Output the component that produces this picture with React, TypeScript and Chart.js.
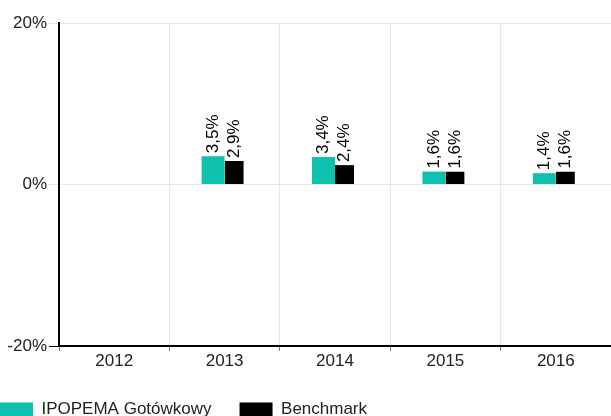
import React, { useEffect, useRef } from "react";
import { Chart, registerables } from "chart.js";

Chart.register(...registerables);

const categories = ["2012", "2013", "2014", "2015", "2016"];
const fundValues: (number | null)[] = [null, 3.5, 3.4, 1.6, 1.4];
const benchmarkValues: (number | null)[] = [null, 2.9, 2.4, 1.6, 1.6];
const seriesNames = ["IPOPEMA Gotówkowy", "Benchmark"];
const yTicks = [-20, 0, 20];

const FONT_FAMILY = '"Liberation Sans", Arial, Helvetica, sans-serif';
const TEAL = "#0ec0ae";
const BLACK = "#000000";
const BLACK_RIGHT_GAP = 4;

const fmt = (v: number) => v.toFixed(1).replace(".", ",") + "%";

const barLabels = {
  id: "barLabels",
  afterDatasetsDraw(chart: any) {
    const ctx = chart.ctx;
    chart.data.datasets.forEach((ds: any, di: number) => {
      const meta = chart.getDatasetMeta(di);
      meta.data.forEach((bar: any, i: number) => {
        const v = ds.data[i];
        if (v == null) return;
        const p = bar.getProps(["x", "y"], true);
        const gap = ds.borderWidth && typeof ds.borderWidth === "object" ? ds.borderWidth.right || 0 : 0;
        const x = p.x - gap / 2;
        ctx.save();
        ctx.translate(x, p.y - 3);
        ctx.rotate(-Math.PI / 2);
        ctx.font = `17px ${FONT_FAMILY}`;
        ctx.fillStyle = "#000";
        ctx.textAlign = "left";
        ctx.textBaseline = "middle";
        ctx.fillText(fmt(v), 0, 0);
        ctx.restore();
      });
    });
  },
};

export default function App() {
  const ref = useRef<HTMLCanvasElement>(null);
  useEffect(() => {
    if (!ref.current) return;
    const chart = new Chart(ref.current, {
      type: "bar",
      data: {
        labels: categories,
        datasets: [
          {
            label: seriesNames[0],
            data: fundValues,
            backgroundColor: TEAL,
            borderWidth: 0,
          },
          {
            label: seriesNames[1],
            data: benchmarkValues,
            backgroundColor: BLACK,
            borderColor: "#ffffff",
            borderWidth: { top: 0, left: 0, bottom: 0, right: BLACK_RIGHT_GAP },
          },
        ] as any,
      },
      options: {
        responsive: false,
        animation: false,
        layout: { padding: { top: 23, left: -28, right: 0, bottom: -12 } },
        datasets: {
          bar: { categoryPercentage: 46 / 110.5, barPercentage: 1 },
        } as any,
        plugins: {
          tooltip: { enabled: false },
          legend: {
            display: true,
            position: "bottom",
            align: "start",
            labels: {
              boxWidth: 33,
              boxHeight: 14,
              padding: 28,
              color: "#222",
              font: { size: 17, family: FONT_FAMILY },
              generateLabels: (chart: any) =>
                chart.data.datasets.map((ds: any, i: number) => ({
                  text: ds.label,
                  fillStyle: ds.backgroundColor,
                  strokeStyle: ds.backgroundColor,
                  lineWidth: 0,
                  hidden: false,
                  datasetIndex: i,
                  fontColor: "#222",
                })),
            },
          },
        },
        scales: {
          x: {
            grid: {
              color: "#e6e6e6",
              tickColor: "#777",
              tickLength: 5,
              offset: true,
            },
            border: { color: "#000", width: 2 },
            ticks: {
              color: "#222",
              padding: 0,
              font: { size: 17, family: FONT_FAMILY },
              maxRotation: 0,
            },
            afterFit: (scale: any) => {
              scale.height = 27;
            },
          },
          y: {
            min: -20,
            max: 20,
            afterBuildTicks: (scale: any) => {
              scale.ticks = yTicks.map((v) => ({ value: v }));
            },
            grid: {
              color: "#e6e6e6",
              tickLength: 10,
              tickColor: (c: any) => (c.tick && c.tick.value === -20 ? "#000" : "#e6e6e6"),
            },
            border: { color: "#000", width: 2 },
            ticks: {
              color: "#222",
              padding: 2,
              font: { size: 17, family: FONT_FAMILY },
              callback: (v: any) => `${v}%`,
            },
            afterFit: (scale: any) => {
              scale.width = 87;
            },
          },
        },
      },
      plugins: [barLabels],
    });
    return () => chart.destroy();
  }, []);
  return (
    <div style={{ position: "fixed", left: 0, top: 0, width: 611, height: 416, background: "#fff" }}>
      <canvas ref={ref} width={611} height={416} style={{ display: "block" }} />
    </div>
  );
}
